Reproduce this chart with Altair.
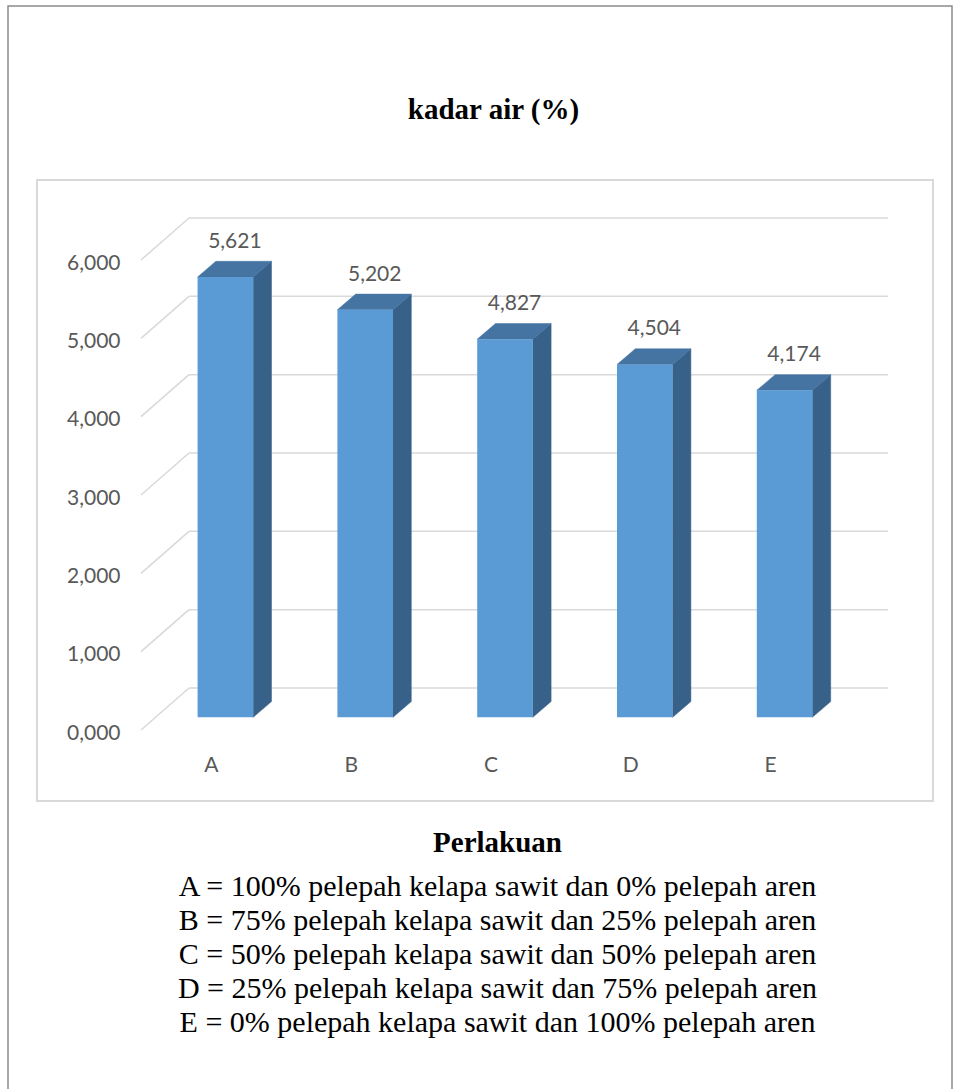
import json

import altair as alt
import pandas as pd

# ---------------- data ----------------
categories = ["A", "B", "C", "D", "E"]
kadar_air = [5.621, 5.202, 4.827, 4.504, 4.174]
y_ticks = [0, 1, 2, 3, 4, 5, 6]
keterangan = [
    "A = 100% pelepah kelapa sawit dan 0% pelepah aren",
    "B = 75% pelepah kelapa sawit dan 25% pelepah aren",
    "C = 50% pelepah kelapa sawit dan 50% pelepah aren",
    "D = 25% pelepah kelapa sawit dan 75% pelepah aren",
    "E = 0% pelepah kelapa sawit dan 100% pelepah aren",
]

# ---------------- layout / style ----------------
W, H = 896, 621                      # plot box
PAD = {"left": 37, "top": 180, "right": 21, "bottom": 288}
X_DOMAIN, X_RANGE = [-0.5, 4.5], [104, 803]
Y_DOMAIN, Y_RANGE = [0, 6], [550, 80]
PX_PER_X = (X_RANGE[1] - X_RANGE[0]) / (X_DOMAIN[1] - X_DOMAIN[0])
PX_PER_Y = (Y_RANGE[0] - Y_RANGE[1]) / (Y_DOMAIN[1] - Y_DOMAIN[0])

# oblique 3-D projection (pixels)
WALL_DX, WALL_DY = 48, 42            # front plane -> back wall
BAR_DX, BAR_DY = 14.5, 12.7          # front plane -> bar front face
DEPTH_DX, DEPTH_DY = 18.3, 15.7      # bar thickness
BAR_HALF = 27.8                      # half width of the bar front

FRAME_BOTTOM = 930                   # page frame runs past the bottom edge

FRONT, TOP, SIDE = "#5B9BD5", "#4574A2", "#386189"
GRID = "#D9D9D9"
TXT = "#595959"
SERIF = "Liberation Serif"
SANS = "Lato"


def ux(px):
    return px / PX_PER_X


def uy(px):
    return px / PX_PER_Y


# faces of each 3-D bar, in data units
front_rows, side_rows, top_rows = [], [], []
for i, (cat, v) in enumerate(zip(categories, kadar_air)):
    x0 = i + ux(BAR_DX - BAR_HALF)
    x1 = i + ux(BAR_DX + BAR_HALF)
    y0 = uy(BAR_DY)
    y1 = v + uy(BAR_DY)
    ddx, ddy = ux(DEPTH_DX), uy(DEPTH_DY)
    front_rows.append({"cat": cat, "x0": x0, "x1": x1, "y0": y0, "y1": y1})
    side_rows += [
        {"cat": cat, "x": x1, "lo": y0, "hi": y1},
        {"cat": cat, "x": x1 + ddx, "lo": y0 + ddy, "hi": y1 + ddy},
    ]
    top_rows += [
        {"cat": cat, "y": y1, "lo": x0, "hi": x1},
        {"cat": cat, "y": y1 + ddy, "lo": x0 + ddx, "hi": x1 + ddx},
    ]

front_df = pd.DataFrame(front_rows)
side_df = pd.DataFrame(side_rows)
top_df = pd.DataFrame(top_rows)
label_df = pd.DataFrame({"idx": list(range(len(categories))), "cat": categories, "v": kadar_air})
tick_df = pd.DataFrame({"t": y_ticks})

X_SCALE = alt.Scale(domain=X_DOMAIN, range=X_RANGE, nice=False, zero=False)
Y_SCALE = alt.Scale(domain=Y_DOMAIN, range=Y_RANGE, nice=False, zero=False)

comma_fmt = "replace(format({}, '.3f'), '.', ',')"

y_axis = alt.Axis(
    values=y_ticks, orient="left", offset=-X_RANGE[0],
    domain=False, ticks=False, tickSize=0, grid=False,
    labelPadding=21, labelOffset=3,
    labelExpr=comma_fmt.format("datum.value"),
    labelFont=SANS, labelFontSize=21, labelColor=TXT,
    title="kadar air (%)", titleAngle=0, titleX=352, titleY=-62,
    titleAlign="center", titleBaseline="alphabetic",
    titleFont=SERIF, titleFontSize=29, titleFontWeight="bold", titleColor="black",
)

x_axis = alt.Axis(
    values=list(range(len(categories))), orient="bottom", offset=-(H - Y_RANGE[0]),
    domain=False, ticks=False, tickSize=0, grid=False, labelFlush=False,
    labelPadding=24, labelExpr=f"{json.dumps(categories)}[datum.value]",
    labelFont=SANS, labelFontSize=21, labelColor=TXT, title=" ",
)


def xq(field):
    return alt.X(field, type="quantitative", scale=X_SCALE, axis=x_axis)


def yq(field):
    return alt.Y(field, type="quantitative", scale=Y_SCALE, axis=y_axis)


# outer page frame (top, left and right edges)
frame = alt.Chart(alt.Data(values=[{}])).mark_rect(
    fillOpacity=0, stroke="#8C8C8C", strokeWidth=1.5
).encode(
    x=alt.value(-29), x2=alt.value(915), y=alt.value(-174), y2=alt.value(FRAME_BOTTOM)
)

# back-wall gridlines
back_grid = alt.Chart(tick_df).mark_rule(
    color=GRID, strokeWidth=1.5,
    xOffset=WALL_DX, x2Offset=WALL_DX, yOffset=-WALL_DY, y2Offset=-WALL_DY,
).encode(
    x=alt.XDatum(X_DOMAIN[0], type="quantitative", scale=X_SCALE, axis=x_axis),
    x2=alt.datum(X_DOMAIN[1]),
    y=yq("t"),
    y2="t:Q",
)

# side-wall gridlines running from the front plane to the back wall
diag_grid = alt.Chart(tick_df).mark_rule(
    color=GRID, strokeWidth=1.5, x2Offset=WALL_DX, y2Offset=-WALL_DY,
).encode(
    x=alt.XDatum(X_DOMAIN[0], type="quantitative", scale=X_SCALE, axis=x_axis),
    x2=alt.datum(X_DOMAIN[0]),
    y=yq("t"),
    y2="t:Q",
)

side = alt.Chart(side_df).mark_area(
    orient="vertical", color=SIDE, stroke=SIDE, strokeWidth=0.5
).encode(
    x=xq("x"),
    y=yq("hi"),
    y2="lo:Q",
    detail="cat:N",
)

top = alt.Chart(top_df).mark_area(
    orient="horizontal", color=TOP, stroke=TOP, strokeWidth=0.5
).encode(
    y=yq("y"),
    x=xq("hi"),
    x2="lo:Q",
    detail="cat:N",
)

front = alt.Chart(front_df).mark_rect(color=FRONT).encode(
    x=xq("x0"),
    x2="x1:Q",
    y=yq("y1"),
    y2="y0:Q",
)

labels = alt.Chart(label_df).transform_calculate(
    lbl=comma_fmt.format("datum.v")
).mark_text(
    font=SANS, fontSize=21, color=TXT, align="center", baseline="alphabetic",
    dx=24, dy=-42,
).encode(
    x=xq("idx"),
    y=yq("v"),
    text="lbl:N",
)

chart = alt.layer(frame, back_grid, diag_grid, side, top, front, labels).properties(
    width=W,
    height=H,
    autosize=alt.AutoSizeParams(type="none"),
    padding=PAD,
    background="white",
    title=alt.TitleParams(
        text="Perlakuan",
        subtitle=keterangan,
        orient="bottom",
        anchor="middle",
        frame="group",
        offset=-260.75 - (FRAME_BOTTOM - 909),
        dx=12.5,
        font=SERIF, fontSize=29, fontWeight="bold", color="black",
        subtitleFont=SERIF, subtitleFontSize=30, subtitleColor="black",
        subtitleLineHeight=34, subtitlePadding=14,
    ),
).configure_view(stroke=GRID, strokeWidth=2)

chart.save("out.html", embed_options={"renderer": "svg", "actions": False})
